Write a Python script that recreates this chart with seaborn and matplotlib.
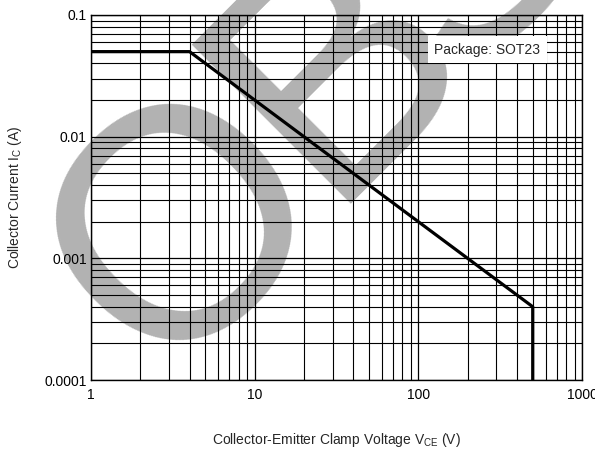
import numpy as np
import matplotlib
matplotlib.use('Agg')
import matplotlib.pyplot as plt
import matplotlib.ticker as ticker
from matplotlib import font_manager
import seaborn as sns
import pandas as pd

# SOA curve data
voltage = [1, 4, 500, 500]
current = [0.05, 0.05, 0.0004, 0.0001]

x_ticks = [1, 10, 100, 1000]
y_ticks = [0.0001, 0.001, 0.01, 0.1]

sns.set_theme(style="white")
plt.rcParams.update({
    'font.family': ['Liberation Sans', 'DejaVu Sans'],
    'mathtext.fontset': 'custom',
    'mathtext.rm': 'Liberation Sans',
    'font.size': 10,
})

names = {f.name for f in font_manager.fontManager.ttflist}
wm_font = 'Liberation Sans Narrow' if 'Liberation Sans Narrow' in names else 'Liberation Sans'
print(wm_font)

df = pd.DataFrame({'V': voltage, 'I': current})

W, H = 595, 451
fig = plt.figure(figsize=(W / 100, H / 100), dpi=100)
ax = fig.add_axes([91 / W, 1 - 380 / H, 491 / W, 365 / H])
ax.set_facecolor('white')

sns.lineplot(data=df, x='V', y='I', sort=False, estimator=None,
             color='black', linewidth=2.3, ax=ax, zorder=3)

ax.set_xscale('log')
ax.set_yscale('log')
ax.set_xlim(1, 1000)
ax.set_ylim(0.0001, 0.1)

ax.xaxis.set_major_locator(ticker.FixedLocator(x_ticks))
ax.yaxis.set_major_locator(ticker.FixedLocator(y_ticks))
ax.xaxis.set_minor_locator(ticker.LogLocator(base=10, subs=np.arange(2, 10)))
ax.yaxis.set_minor_locator(ticker.LogLocator(base=10, subs=np.arange(2, 10)))
fmt = ticker.FuncFormatter(lambda v, _: f'{v:g}')
ax.xaxis.set_major_formatter(fmt)
ax.yaxis.set_major_formatter(fmt)
ax.xaxis.set_minor_formatter(ticker.NullFormatter())
ax.yaxis.set_minor_formatter(ticker.NullFormatter())

ax.set_axisbelow(True)
ax.grid(which='major', color='black', linewidth=0.9)
ax.grid(which='minor', color='black', linewidth=0.8)
ax.tick_params(which='both', length=0, labelsize=10, colors='black')
ax.tick_params(axis='x', pad=6)
ax.tick_params(axis='y', pad=3)
for s in ax.spines.values():
    s.set_color('black')
    s.set_linewidth(1.0)

ax.set_xlabel(r'Collector-Emitter Clamp Voltage V$_\mathregular{CE}$ (V)', fontsize=10)
ax.set_ylabel(r'Collector Current I$_\mathregular{C}$ (A)', fontsize=10)
ax.xaxis.set_label_coords(0.5, (380 - 440) / 365)
ax.xaxis.label.set_va('center')
ax.yaxis.set_label_coords((15 - 91) / 491, 0.5)
ax.yaxis.label.set_va('center')

ax.text(0.915, 0.905, 'Package: SOT23', transform=ax.transAxes, ha='right', va='center',
        fontsize=10, zorder=4,
        bbox=dict(facecolor='white', edgecolor='none', boxstyle='square,pad=0.45'))

# grey "OBS" watermark under the grid, one letter at a time (baseline anchors in px)
if wm_font == 'Liberation Sans Narrow':
    wm_size, anchors = 250, [(255, 296), (398, 140), (534, 3)]
else:
    wm_size, anchors = 235, [(250, 291), (401, 127), (532, 5)]
for letter, (px, py) in zip('OBS', anchors):
    ax.text(px / W, 1 - py / H, letter, transform=fig.transFigure, rotation=45,
            rotation_mode='anchor', ha='center', va='baseline', fontsize=wm_size,
            family=wm_font, color='#b2b2b2', clip_on=False, zorder=0.2)

fig.savefig('out.png', dpi=100)
